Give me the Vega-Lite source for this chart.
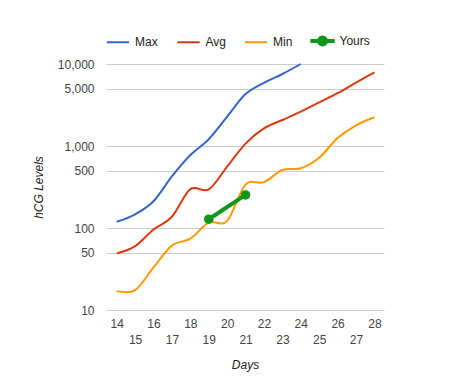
{
  "$schema": "https://vega.github.io/schema/vega-lite/v6.json",
  "width": 278,
  "height": 246,
  "autosize": "none",
  "padding": {"left": 106, "top": 64, "right": 71, "bottom": 81},
  "background": "white",
  "config": {"font": "Liberation Sans", "view": {"stroke": null}},
  "data": {
    "values": [
      {"day": 14, "series": "Max", "value": 119},
      {"day": 15, "series": "Max", "value": 147},
      {"day": 16, "series": "Max", "value": 212},
      {"day": 17, "series": "Max", "value": 425},
      {"day": 18, "series": "Max", "value": 775},
      {"day": 19, "series": "Max", "value": 1210},
      {"day": 20, "series": "Max", "value": 2280},
      {"day": 21, "series": "Max", "value": 4300},
      {"day": 22, "series": "Max", "value": 5900},
      {"day": 23, "series": "Max", "value": 7550},
      {"day": 24, "series": "Max", "value": 10000},
      {"day": 14, "series": "Avg", "value": 49},
      {"day": 15, "series": "Avg", "value": 60},
      {"day": 16, "series": "Avg", "value": 96},
      {"day": 17, "series": "Avg", "value": 137},
      {"day": 18, "series": "Avg", "value": 298},
      {"day": 19, "series": "Avg", "value": 295},
      {"day": 20, "series": "Avg", "value": 560},
      {"day": 21, "series": "Avg", "value": 1070},
      {"day": 22, "series": "Avg", "value": 1640},
      {"day": 23, "series": "Avg", "value": 2075},
      {"day": 24, "series": "Avg", "value": 2620},
      {"day": 25, "series": "Avg", "value": 3410},
      {"day": 26, "series": "Avg", "value": 4400},
      {"day": 27, "series": "Avg", "value": 5920},
      {"day": 28, "series": "Avg", "value": 7930},
      {"day": 14, "series": "Min", "value": 17},
      {"day": 15, "series": "Min", "value": 17.5},
      {"day": 16, "series": "Min", "value": 33},
      {"day": 17, "series": "Min", "value": 61},
      {"day": 18, "series": "Min", "value": 74},
      {"day": 19, "series": "Min", "value": 116},
      {"day": 20, "series": "Min", "value": 122},
      {"day": 21, "series": "Min", "value": 338},
      {"day": 22, "series": "Min", "value": 362},
      {"day": 23, "series": "Min", "value": 510},
      {"day": 24, "series": "Min", "value": 535},
      {"day": 25, "series": "Min", "value": 720},
      {"day": 26, "series": "Min", "value": 1250},
      {"day": 27, "series": "Min", "value": 1790},
      {"day": 28, "series": "Min", "value": 2240},
      {"day": 19, "series": "Yours", "value": 128},
      {"day": 21, "series": "Yours", "value": 253}
    ]
  },
  "encoding": {
    "x": {
      "field": "day",
      "type": "quantitative",
      "scale": {"domain": [13.42, 28.52], "nice": false, "zero": false},
      "axis": {
        "title": "Days",
        "titleFontStyle": "italic",
        "titleFontWeight": "normal",
        "titleFontSize": 12,
        "titleColor": "#222222",
        "titlePadding": 14,
        "values": [14, 15, 16, 17, 18, 19, 20, 21, 22, 23, 24, 25, 26, 27, 28],
        "labelExpr": "datum.value % 2 === 1 ? ['', datum.label] : datum.label",
        "labelLineHeight": 16,
        "grid": false,
        "domain": false,
        "ticks": false,
        "labelFontSize": 12,
        "labelColor": "#444444",
        "labelPadding": 8,
        "labelFlush": false,
        "labelOverlap": false
      }
    },
    "y": {
      "field": "value",
      "type": "quantitative",
      "scale": {"type": "log", "domain": [10, 10000], "nice": false},
      "axis": {
        "title": "hCG Levels",
        "titleFontStyle": "italic",
        "titleFontWeight": "normal",
        "titleFontSize": 12,
        "titleColor": "#222222",
        "titlePadding": 12,
        "values": [10, 50, 100, 500, 1000, 5000, 10000],
        "format": ",",
        "grid": true,
        "gridColor": "#cccccc",
        "domain": false,
        "ticks": false,
        "labelPadding": 12,
        "labelFontSize": 12,
        "labelColor": "#444444"
      }
    },
    "color": {
      "field": "series",
      "type": "nominal",
      "scale": {"domain": ["Max", "Avg", "Min", "Yours"], "range": ["#3366cc", "#dc3912", "#ff9900", "#109618"]},
      "legend": {
        "orient": "none",
        "legendX": -0.5,
        "legendY": -35.5,
        "direction": "horizontal",
        "title": null,
        "symbolType": "stroke",
        "symbolSize": 500,
        "symbolStrokeWidth": 2,
        "labelFontSize": 12,
        "labelColor": "#222222",
        "labelOffset": 4.5,
        "columnPadding": 14.5,
        "encode": {
          "symbols": {
            "update": {
              "shape": {"signal": "datum.value === 'Yours' ? 'M-1,-0.09H1V0.09H-1ZM0.4,0L0.35,0.2L0.2,0.35L0,0.4L-0.2,0.35L-0.35,0.2L-0.4,0L-0.35,-0.2L-0.2,-0.35L0,-0.4L0.2,-0.35L0.35,-0.2Z' : 'stroke'"},
              "fill": {"signal": "datum.value === 'Yours' ? '#109618' : 'transparent'"}
            }
          }
        }
      }
    }
  },
  "layer": [
    {
      "transform": [{"filter": "datum.series !== 'Yours'"}],
      "mark": {"type": "line", "interpolate": "cardinal", "strokeWidth": 2}
    },
    {
      "transform": [{"filter": "datum.series === 'Yours'"}],
      "mark": {"type": "line", "strokeWidth": 4, "point": {"filled": true, "size": 90, "opacity": 1}}
    }
  ]
}
